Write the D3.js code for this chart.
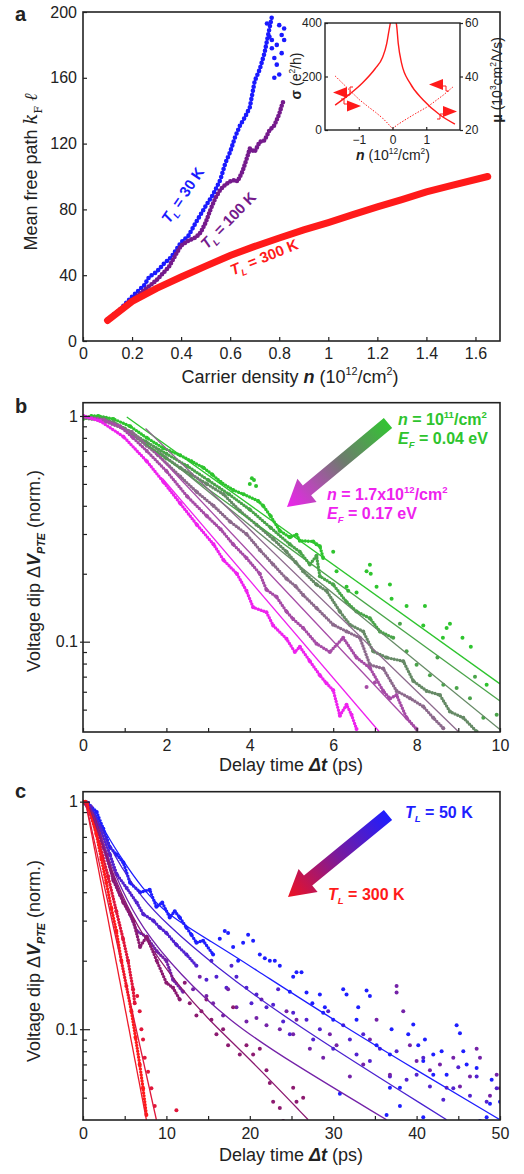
<!DOCTYPE html>
<html>
<head>
<meta charset="utf-8">
<script src="https://cdn.jsdelivr.net/npm/d3@7"></script>
<style>
  body { margin: 0; background: #fff; }
  svg text { font-family: "Liberation Sans", Arial, sans-serif; }
</style>
</head>
<body>
<svg id="fig" width="524" height="1174" fill="#222"></svg>
<script>
// ---------- panel a : mean free path vs carrier density ----------
const aXTicks = [0, 0.2, 0.4, 0.6, 0.8, 1, 1.2, 1.4, 1.6];
const aYTicks = [0, 40, 80, 120, 160, 200];
const aRed = [[0.1,12.5],[0.2,24],[0.3,32],[0.4,38.9],[0.5,45.5],[0.6,52],[0.7,57.5],[0.8,62.6],[0.9,67.5],[1.0,72],[1.1,76.8],[1.2,81.5],[1.3,86],[1.4,90.6],[1.5,94.5],[1.65,100]];
const aBlue = [[0.1,13],[0.15,19],[0.2,27],[0.25,34],[0.27,39],[0.3,42],[0.33,47],[0.36,51],[0.4,60],[0.43,64],[0.46,72],[0.5,82],[0.53,89],[0.56,98],[0.58,108],[0.6,115],[0.62,124],[0.64,131],[0.66,136],[0.68,142],[0.7,158],[0.72,165],[0.74,175],[0.76,190],[0.77,197]];
const aBlueTop = [[0.76,185],[0.77,178],[0.78,172],[0.79,168],[0.8,162],[0.81,175],[0.81,186],[0.82,190],[0.8,192],[0.78,160],[0.77,183],[0.75,193],[0.79,180],[0.82,183]];
const aPurple = [[0.1,12],[0.15,18],[0.2,25],[0.25,31],[0.3,37],[0.35,45],[0.38,53],[0.4,58],[0.43,61],[0.46,63],[0.48,66],[0.5,72],[0.52,80],[0.54,87],[0.56,92],[0.58,95],[0.6,97],[0.62,98],[0.63,97],[0.65,103],[0.67,112],[0.68,117],[0.7,115],[0.72,121],[0.74,122],[0.76,128],[0.78,131],[0.8,138],[0.81,143],[0.82,147]];

// inset: conductivity (dotted, left axis) and mobility (solid, right axis)
const insetXTicks = [-1, 0, 1];
const insetSigmaTicks = [0, 200, 400];
const insetMuTicks = [20, 40, 60];
const insetSigma = [[-1.7,202],[-1.4,165],[-1.2,140],[-0.97,112],[-0.7,85],[-0.5,66],[-0.3,45],[-0.15,26],[0,5],[0.15,20],[0.4,40],[0.69,62],[1.0,84],[1.18,100],[1.5,130],[1.82,164]];
const insetMuNeg = [[-1.7,29.3],[-1.26,33.5],[-0.9,37.5],[-0.51,43],[-0.3,47],[-0.17,52.4],[-0.12,56],[-0.05,61]];
const insetMuPos = [[0.08,61],[0.12,59.3],[0.17,52.4],[0.27,44.9],[0.52,37.5],[0.91,31.2],[1.41,25.6],[1.85,22.2]];

// ---------- panel b : decay vs carrier density ----------
const bXTicks = [0,1,2,3,4,5,6,7,8,9,10];
const bYTicks = [0.05,0.06,0.07,0.08,0.09,0.1,0.2,0.3,0.4,0.5,0.6,0.7,0.8,0.9,1];
const bGreen1 = [[0,0.97],[0.2,1.0],[0.37,1.0],[0.73,0.97],[1.13,0.9],[1.53,0.8],[1.93,0.72],[2.33,0.67],[2.6,0.63],[2.89,0.59],[3.1,0.55],[3.3,0.51],[3.6,0.47],[3.85,0.45],[4.2,0.42],[4.32,0.4],[4.5,0.36],[4.72,0.31],[4.96,0.29],[5.12,0.298],[5.2,0.28],[5.52,0.278],[5.6,0.27],[5.68,0.265],[5.76,0.235]];
const bGreen1Loose = [[4.0,0.5],[4.05,0.53],[4.1,0.52],[4.15,0.49],[6.0,0.25],[6.08,0.205],[6.32,0.175],[6.36,0.168],[6.56,0.165],[6.8,0.205],[6.88,0.219],[6.9,0.2],[7.04,0.175],[7.36,0.179],[7.4,0.155],[7.76,0.144],[8.16,0.118],[8.2,0.144],[8.63,0.104],[8.72,0.115],[8.8,0.12],[9.1,0.104],[9.3,0.095],[9.68,0.0645]];
const bGreen2 = [[0,0.98],[0.5,0.98],[1,0.88],[1.5,0.77],[2,0.68],[2.5,0.6],[3,0.52],[3.5,0.45],[4,0.385],[4.5,0.32],[4.96,0.27],[5.2,0.25],[5.44,0.22],[5.6,0.24],[5.68,0.195],[6.0,0.179],[6.32,0.15],[6.56,0.136],[6.88,0.127],[7.12,0.111],[7.44,0.104]];
const bGreen2Loose = [[7.6,0.12],[7.76,0.0906],[8.0,0.079],[8.32,0.071],[8.5,0.085],[8.64,0.0645],[8.96,0.0624],[9.28,0.0562],[9.4,0.07],[9.6,0.046],[9.92,0.0474]];
const bGrayGreen = [[0,0.98],[0.73,0.94],[1.1,0.85],[1.53,0.74],[2,0.65],[2.33,0.59],[2.6,0.55],[2.97,0.5],[3.37,0.45],[3.76,0.38],[4.16,0.33],[4.56,0.285],[4.88,0.25],[5.1,0.225],[5.28,0.205],[5.6,0.179],[5.84,0.168],[6.16,0.136],[6.4,0.119],[6.72,0.111],[6.96,0.0906],[7.28,0.085],[7.68,0.082],[7.92,0.067],[8.24,0.0605],[8.56,0.058],[8.8,0.049],[9.12,0.046],[9.44,0.04]];
const bGrayPurple = [[0,0.99],[0.5,0.95],[1.17,0.85],[1.8,0.67],[2.33,0.54],[2.73,0.46],[3.13,0.4],[3.53,0.34],[3.92,0.3],[4.24,0.255],[4.56,0.22],[4.88,0.19],[5.1,0.176],[5.28,0.161],[5.6,0.141],[6.0,0.119],[6.32,0.111],[6.64,0.104],[6.88,0.079],[7.2,0.076],[7.52,0.0605],[7.84,0.0562],[8.16,0.0516],[8.4,0.046],[8.64,0.0414]];
const bPurple = [[0,1.0],[0.5,0.96],[0.89,0.9],[1.2,0.8],[1.53,0.7],[2,0.57],[2.5,0.44],[2.97,0.36],[3.3,0.315],[3.6,0.27],[3.92,0.235],[4.24,0.2],[4.4,0.17],[4.64,0.158],[4.88,0.136],[5.04,0.126],[5.28,0.115],[5.6,0.098],[5.92,0.09],[6.24,0.104],[6.56,0.085],[6.88,0.0766],[7.2,0.0605],[7.36,0.056],[7.52,0.058],[7.76,0.046],[8.0,0.041]];
const bPurpleLoose = [[6.8,0.063],[7.0,0.066]];
const bMagenta = [[0,1.0],[0.41,0.95],[0.97,0.81],[1.53,0.63],[1.93,0.51],[2.33,0.41],[2.73,0.33],[3.13,0.27],[3.37,0.23],[3.69,0.2],[3.92,0.168],[4.08,0.142],[4.4,0.135],[4.56,0.118],[4.88,0.103],[5.08,0.09],[5.2,0.095],[5.44,0.082],[5.68,0.071],[5.84,0.0654],[6.0,0.061],[6.16,0.047],[6.32,0.0526],[6.44,0.0474],[6.56,0.041]];
const bFitGreen1 = [[1.05,0.99],[10,0.065]];
const bFitGreen2 = [[1.5,0.754],[10,0.0546]];
const bFitGrayGreen = [[1.5,0.78],[10,0.0408]];
const bFitGrayPurple = [[1.5,0.88],[9.0,0.04]];
const bFitPurple = [[1.7,0.70],[8.04,0.04]];
const bFitMagenta = [[1.9,0.53],[7.1,0.04]];

// ---------- panel c : decay vs lattice temperature ----------
const cXTicks = [0,5,10,15,20,25,30,35,40,45,50];
const cYTicks = bYTicks;
const cBlue = [[0,1.0],[0.56,0.99],[1.64,0.9],[2.44,0.76],[3.24,0.63],[4.04,0.585],[4.84,0.54],[5.64,0.44],[6.84,0.4],[8.0,0.41],[8.8,0.345],[9.5,0.36],[10.4,0.31],[11,0.33],[11.6,0.31],[12.4,0.28],[13,0.26],[13.6,0.24],[14.4,0.245],[15.6,0.213]];
const cBlueLoose = [[16.4,0.25],[17.0,0.27],[17.4,0.265],[18,0.23],[18.6,0.2],[19.2,0.24],[19.8,0.26],[20.4,0.245],[21.2,0.213],[21.8,0.205],[22.4,0.2],[23,0.2],[23.6,0.19],[24.8,0.146],[25.2,0.17],[25.6,0.178],[26.2,0.178],[26.8,0.145],[27.5,0.13],[28.4,0.142],[28.8,0.118],[29,0.125],[30,0.11],[30.8,0.052],[31.2,0.15],[31.6,0.142],[32.8,0.11],[33,0.125],[34,0.148],[34.4,0.14],[35.2,0.085],[36.4,0.042],[36.8,0.0774],[36.8,0.0553],[37,0.1],[38,0.0553],[38,0.046],[39,0.095],[39.6,0.105],[40.2,0.085],[40.8,0.0725],[40.8,0.041],[41,0.09],[42,0.0774],[42,0.063],[43,0.08],[43.6,0.063],[44.8,0.104],[45.2,0.096],[45.6,0.08],[46,0.07],[47.2,0.0675],[47.6,0.0395],[48.4,0.041],[48.8,0.047],[49,0.06],[50,0.048]];
const cBluePurple = [[0,1.0],[0.56,0.99],[2.0,0.78],[3.24,0.585],[4.04,0.48],[5.24,0.417],[6.44,0.36],[7.24,0.32],[8.44,0.3],[9.2,0.28],[10,0.265],[11.2,0.235],[12.4,0.213],[13.6,0.19]];
const cBluePurpleLoose = [[14.8,0.165],[15.4,0.2],[16,0.17],[17.2,0.152],[17.8,0.19],[18.4,0.17],[19.6,0.152],[20.2,0.13],[20.8,0.142],[22,0.125],[22.8,0.128],[23.4,0.15],[24,0.108],[24.8,0.095],[25.2,0.118],[26.8,0.11],[27.6,0.09],[28.4,0.1],[29.4,0.12],[30,0.082],[31.2,0.104],[32,0.09],[32.8,0.0774],[33.6,0.095],[34.4,0.0725],[35.6,0.082],[36.8,0.062],[37.6,0.08],[38.8,0.06],[40,0.063],[40.8,0.075],[41.6,0.056],[43.2,0.049],[44.4,0.055],[45,0.068],[46.4,0.051],[47.2,0.062],[48.4,0.048],[49.6,0.055]];
const cPurple = [[0,1.0],[0.96,0.95],[2.44,0.63],[3.64,0.46],[4.44,0.39],[5.64,0.32],[6.44,0.27],[7.63,0.255],[8.84,0.22],[10,0.2],[10.8,0.165],[12.0,0.146]];
const cPurpleLoose = [[13.2,0.15],[14,0.17],[14.8,0.14],[15.6,0.13],[16.8,0.115],[17.4,0.15],[18.4,0.125],[19.6,0.108],[20.8,0.112],[21.4,0.135],[22,0.104],[23.6,0.1],[24.4,0.12],[25.2,0.095],[25.6,0.11],[27.2,0.082],[28.8,0.075],[29.6,0.095],[30.4,0.085],[32,0.062],[33.6,0.07],[34.4,0.09],[35.2,0.11],[36.8,0.063],[37.6,0.155],[37.6,0.145],[38.4,0.12],[39.2,0.085],[40,0.0725],[41.6,0.066],[42.8,0.07],[43.6,0.0553],[44.4,0.075],[45.2,0.056],[46.4,0.062],[47.2,0.082],[47.6,0.075],[48.8,0.051],[49.6,0.063],[50,0.055]];
const cMaroon = [[0,1.0],[1.2,0.88],[2.84,0.585],[3.64,0.45],[4.84,0.36],[6.04,0.3],[6.84,0.23],[7.63,0.255],[8.84,0.2],[10,0.16],[10.8,0.152],[11.6,0.135]];
const cMaroonLoose = [[12.2,0.16],[12.8,0.13],[13.6,0.115],[14.2,0.12],[14.8,0.135],[15.4,0.11],[16,0.095],[16.8,0.1],[17.4,0.085],[18,0.125],[18.8,0.0774],[19.6,0.085],[20.4,0.0774],[21.2,0.082],[22,0.066],[22.4,0.058],[22.8,0.048],[23.6,0.045],[24,0.0395],[25.2,0.0553],[25.6,0.048],[26.4,0.05]];
const cRed1 = [[0,1.0],[0.3,1.0],[1,0.88],[1.6,0.72],[2.2,0.56],[2.8,0.44],[3.4,0.34],[4,0.27],[4.6,0.2],[5.2,0.155],[5.8,0.12],[6.3,0.092],[6.8,0.07],[7.2,0.055],[7.6,0.042]];
const cRed2 = [[0.5,0.98],[2,0.65],[3,0.47],[4,0.33],[4.8,0.25],[5.4,0.2],[6,0.15],[6.2,0.13]];
const cRed2Loose = [[6.5,0.14],[6.8,0.12],[7,0.1],[7.2,0.09],[7.4,0.075],[7.8,0.065],[8.2,0.055],[8.6,0.046],[11.2,0.044]];
const cFitBlue = [[0.8,0.97],[2,0.82],[3,0.7],[4.8,0.55],[7,0.42],[10,0.32],[15.6,0.24],[20,0.19],[30,0.11],[40,0.066],[50,0.04]];
const cFitBluePurple = [[0.8,0.97],[2,0.8],[3,0.66],[4.5,0.52],[7,0.38],[10,0.29],[15.6,0.192],[24.8,0.108],[43.6,0.04]];
const cFitPurple = [[0.8,0.95],[2,0.72],[3,0.57],[4.5,0.42],[7,0.28],[11.6,0.174],[17.6,0.108],[24.8,0.072],[36.4,0.04]];
const cFitMaroon = [[0.8,0.94],[2,0.7],[3,0.55],[4.5,0.4],[7,0.26],[11.6,0.152],[15.6,0.105],[20,0.074],[27,0.04]];
const cFitRed1 = [[0.3,1.0],[7.6,0.04]];
const cFitRed2 = [[0.3,1.0],[8.8,0.04]];

// ---------- drawing ----------
const svg = d3.select('#fig');
const SERIF = '"DejaVu Serif", "Liberation Serif", serif';
const defs = svg.append('defs');

// text with mixed styling; flags: b bold, i italic, ^ sup, _ sub, s serif
function rich(sel, x, y, parts, size) {
  const t = sel.append('text').attr('x', x).attr('y', y).attr('font-size', size);
  let shift = 0;
  parts.forEach(p => {
    const [txt, f] = typeof p === 'string' ? [p, ''] : p;
    const s = t.append('tspan').text(txt);
    let target = 0;
    if (f.includes('^')) target = -0.42 * size;
    if (f.includes('_')) target = 0.28 * size;
    if (target - shift !== 0) s.attr('dy', target - shift);
    shift = target;
    if (f.includes('^') || f.includes('_')) s.attr('font-size', size * 0.6);
    if (f.includes('i')) s.attr('font-style', 'italic');
    if (f.includes('b')) s.attr('font-weight', 'bold');
    if (f.includes('s')) s.attr('font-family', SERIF);
  });
  return t;
}

function clip(id, x0, y0, x1, y1) {
  defs.append('clipPath').attr('id', id).append('rect')
    .attr('x', x0).attr('y', y0).attr('width', x1 - x0).attr('height', y1 - y0);
  return `url(#${id})`;
}

function styleAxis(g, size) {
  g.select('.domain').remove();
  g.attr('font-size', size).attr('font-family', '"Liberation Sans", Arial, sans-serif');
  g.selectAll('line').attr('stroke', '#222').attr('stroke-width', 1.2);
  g.selectAll('text').attr('fill', '#222');
}

function frame(x0, y0, x1, y1, w) {
  svg.append('rect').attr('x', x0).attr('y', y0).attr('width', x1 - x0).attr('height', y1 - y0)
    .attr('fill', 'none').attr('stroke', '#222').attr('stroke-width', w || 1.6);
}

function arrow(id, tail, tip, stops) {
  const g = defs.append('linearGradient').attr('id', id).attr('gradientUnits', 'userSpaceOnUse')
    .attr('x1', tail[0]).attr('y1', tail[1]).attr('x2', tip[0]).attr('y2', tip[1]);
  stops.forEach(s => g.append('stop').attr('offset', s[0]).attr('stop-color', s[1]));
  const dx = tip[0] - tail[0], dy = tip[1] - tail[1], len = Math.hypot(dx, dy);
  const ux = dx / len, uy = dy / len, nx = -uy, ny = ux;
  const w = 6.5, H = 15, L = 26;
  const bx = tip[0] - ux * L, by = tip[1] - uy * L;
  const pts = [
    [tail[0] + nx * w, tail[1] + ny * w], [bx + nx * w, by + ny * w], [bx + nx * H, by + ny * H],
    tip, [bx - nx * H, by - ny * H], [bx - nx * w, by - ny * w], [tail[0] - nx * w, tail[1] - ny * w]
  ];
  svg.append('polygon').attr('points', pts.map(p => p.join(',')).join(' ')).attr('fill', `url(#${id})`);
}

// ===== panel a =====
const xA = d3.scaleLinear([0, 1.7], [83, 500]);
const yA = d3.scaleLinear([0, 200], [341, 12]);
const lineA = d3.line().x(d => xA(d[0])).y(d => yA(d[1]));

svg.append('g').attr('transform', 'translate(0,341)')
  .call(d3.axisBottom(xA).tickValues(aXTicks).tickSize(-4).tickPadding(7).tickFormat(d3.format('~g')))
  .call(g => styleAxis(g, 16));
svg.append('g').attr('transform', 'translate(83,0)')
  .call(d3.axisLeft(yA).tickValues(aYTicks).tickSize(-4).tickPadding(6))
  .call(g => styleAxis(g, 16));

svg.append('path').datum(aBlue).attr('d', lineA).attr('fill', 'none')
  .attr('stroke', '#1a1aff').attr('stroke-width', 4.6).attr('stroke-linecap', 'round')
  .attr('stroke-dasharray', '0 4.2');
svg.append('g').selectAll('circle').data(aBlueTop).join('circle')
  .attr('cx', d => xA(d[0])).attr('cy', d => yA(d[1])).attr('r', 2.3).attr('fill', '#1a1aff');
svg.append('path').datum(aPurple).attr('d', lineA).attr('fill', 'none')
  .attr('stroke', '#751a8c').attr('stroke-width', 4.6).attr('stroke-linecap', 'round')
  .attr('stroke-dasharray', '0 3.6');
svg.append('path').datum(aRed).attr('d', lineA).attr('fill', 'none')
  .attr('stroke', '#ff1a1a').attr('stroke-width', 7).attr('stroke-linecap', 'round');
frame(83, 12, 500, 341);

rich(svg, 187, 198, [['T', 'bi'], ['L', 'bi_'], [' = 30 K', 'b']], 15)
  .attr('text-anchor', 'middle').attr('transform', 'rotate(-56,187,198)').attr('fill', '#1a1aff');
rich(svg, 232, 224, [['T', 'bi'], ['L', 'bi_'], [' = 100 K', 'b']], 15)
  .attr('text-anchor', 'middle').attr('transform', 'rotate(-46,232,224)').attr('fill', '#751a8c');
rich(svg, 266, 262, [['T', 'bi'], ['L', 'bi_'], [' = 300 K', 'b']], 15)
  .attr('text-anchor', 'middle').attr('transform', 'rotate(-22,266,262)').attr('fill', '#ff1a1a');

svg.append('text').attr('x', 15).attr('y', 21).attr('font-size', 20).attr('font-weight', 'bold').text('a');
rich(svg, 290, 383, ['Carrier density ', ['n', 'bi'], ' (10', ['12', '^'], '/cm', ['2', '^'], ')'], 18)
  .attr('text-anchor', 'middle');
rich(svg, 0, 0, ['Mean free path ', ['k', 'is'], ['F', 's_'], ' ', ['ℓ', 'is']], 18)
  .attr('text-anchor', 'middle').attr('transform', 'translate(37,172) rotate(-90)');

// inset
const xI = d3.scaleLinear([-2, 2], [325, 460]);
const ySig = d3.scaleLinear([0, 400], [130, 23]);
const yMu = d3.scaleLinear([20, 60], [130, 23]);
svg.append('rect').attr('x', 325).attr('y', 23).attr('width', 135).attr('height', 107).attr('fill', '#fff');
const insetClip = clip('clipI', 325, 23, 460, 130);
const gI = svg.append('g').attr('clip-path', insetClip);
gI.append('path').datum(insetSigma)
  .attr('d', d3.line().x(d => xI(d[0])).y(d => ySig(d[1])))
  .attr('fill', 'none').attr('stroke', '#ff1a1a').attr('stroke-width', 1).attr('stroke-dasharray', '1.5 1.5');
[insetMuNeg, insetMuPos].forEach(arr => {
  gI.append('path').datum(arr)
    .attr('d', d3.line().x(d => xI(d[0])).y(d => yMu(d[1])).curve(d3.curveMonotoneX))
    .attr('fill', 'none').attr('stroke', '#ff1a1a').attr('stroke-width', 1.4);
});
svg.append('g').attr('transform', 'translate(0,130)')
  .call(d3.axisBottom(xI).tickValues(insetXTicks).tickSize(-3).tickPadding(5).tickFormat(d3.format('~g')))
  .call(g => styleAxis(g, 12));
svg.append('g').attr('transform', 'translate(325,0)')
  .call(d3.axisLeft(ySig).tickValues(insetSigmaTicks).tickSize(-3).tickPadding(3))
  .call(g => styleAxis(g, 12));
svg.append('g').attr('transform', 'translate(460,0)')
  .call(d3.axisRight(yMu).tickValues(insetMuTicks).tickSize(3).tickPadding(2))
  .call(g => styleAxis(g, 12));
frame(325, 23, 460, 130, 1.4);
rich(svg, 393, 160, [['n', 'bi'], ' (10', ['12', '^'], '/cm', ['2', '^'], ')'], 14).attr('text-anchor', 'middle');
rich(svg, 0, 0, [['σ', 'b'], ' (e', ['2', '^'], '/h)'], 14)
  .attr('text-anchor', 'middle').attr('transform', 'translate(301,76) rotate(-90)');
rich(svg, 0, 0, [['μ', 'b'], ' (10', ['3', '^'], 'cm', ['2', '^'], '/Vs)'], 14)
  .attr('text-anchor', 'middle').attr('transform', 'translate(502,80) rotate(-90)');
// inset direction markers
const tri = (tip, dir) => [[tip[0], tip[1]], [tip[0] - dir * 14, tip[1] - 5.5], [tip[0] - dir * 14, tip[1] + 5.5]];
[[[333, 92.5], -1], [[361, 106], 1], [[429, 84.5], -1], [[457, 111.5], 1]].forEach(([tip, dir]) => {
  svg.append('polygon').attr('points', tri(tip, dir).map(p => p.join(',')).join(' ')).attr('fill', '#ff1a1a');
});
['M347,95 H350 V87 H353', 'M347,104 H344 V99 H341', 'M443,86 H446 V91 H449', 'M443,114 H440 V119 H437']
  .forEach(d => svg.append('path').attr('d', d).attr('fill', 'none').attr('stroke', '#ff1a1a').attr('stroke-width', 1));

// ===== shared decay-panel drawing =====
function decayPanel(cfg) {
  const { x, y, top, bottom, xTicks, yTicks, labelEvery, series, fits, id } = cfg;
  const cp = clip(id, 83, top, 500, bottom);
  const line = d3.line().x(d => x(d[0])).y(d => y(d[1]));
  const g = svg.append('g').attr('clip-path', cp);
  series.forEach(s => {
    g.append('path').datum(s.data).attr('d', line)
      .attr('fill', 'none').attr('stroke', s.color).attr('stroke-width', 3.4)
      .attr('stroke-linecap', 'round').attr('stroke-dasharray', '0 3');
    g.append('g').selectAll('circle').data(s.data.concat(s.loose || [])).join('circle')
      .attr('cx', d => x(d[0])).attr('cy', d => y(d[1])).attr('r', 2).attr('fill', s.color);
  });
  const fitLine = d3.line().x(d => x(d[0])).y(d => y(d[1])).curve(d3.curveBasis);
  fits.forEach(f => {
    g.append('path').datum(f.data).attr('d', fitLine)
      .attr('fill', 'none').attr('stroke', f.color).attr('stroke-width', 1.3);
  });
  svg.append('g').attr('transform', `translate(0,${bottom})`)
    .call(d3.axisBottom(x).tickValues(xTicks).tickSize(-4).tickPadding(8)
      .tickFormat(d => d % labelEvery === 0 ? d : ''))
    .call(ax => styleAxis(ax, 16));
  svg.append('g').attr('transform', 'translate(83,0)')
    .call(d3.axisLeft(y).tickValues(yTicks).tickSize(-4).tickPadding(5)
      .tickFormat(d => d === 1 ? '1' : (Math.abs(d - 0.1) < 1e-9 ? '0.1' : '')))
    .call(ax => styleAxis(ax, 16))
    .call(ax => ax.selectAll('.tick').filter(d => d === 1 || Math.abs(d - 0.1) < 1e-9)
      .select('line').attr('x1', -3).attr('x2', 7));
  frame(83, top, 500, bottom);
}

// ===== panel b =====
const xB = d3.scaleLinear([0, 10], [83, 500]);
const yB = d3.scaleLog([0.0398, 1.145], [732, 402.7]);
decayPanel({
  id: 'clipB', x: xB, y: yB, top: 402.7, bottom: 732, xTicks: bXTicks, yTicks: bYTicks, labelEvery: 2,
  series: [
    { data: bGreen1, loose: bGreen1Loose, color: '#2ec42e' },
    { data: bGreen2, loose: bGreen2Loose, color: '#4aa44a' },
    { data: bGrayGreen, color: '#668a66' },
    { data: bGrayPurple, color: '#8c6a8c' },
    { data: bPurple, loose: bPurpleLoose, color: '#a64ca6' },
    { data: bMagenta, color: '#ee22ee' }
  ],
  fits: [
    { data: bFitGreen1, color: '#2ec42e' }, { data: bFitGreen2, color: '#4aa44a' },
    { data: bFitGrayGreen, color: '#668a66' }, { data: bFitGrayPurple, color: '#8c6a8c' },
    { data: bFitPurple, color: '#a64ca6' }, { data: bFitMagenta, color: '#ee22ee' }
  ]
});
svg.append('text').attr('x', 15).attr('y', 413).attr('font-size', 20).attr('font-weight', 'bold').text('b');
rich(svg, 291, 771, ['Delay time ', ['Δt', 'bi'], ' (ps)'], 18).attr('text-anchor', 'middle');
rich(svg, 0, 0, ['Voltage dip ', 'Δ', ['V', 'bi'], ['PTE', 'bi_'], ' (norm.)'], 18)
  .attr('text-anchor', 'middle').attr('transform', 'translate(40,571) rotate(-90)');
arrow('gradB', [388, 423], [287, 507], [[0, '#33c433'], [0.45, '#6e7a6e'], [0.75, '#b44cb4'], [1, '#ee22ee']]);
rich(svg, 398, 425, [['n', 'bi'], [' = 10', 'b'], ['11', 'b^'], ['/cm', 'b'], ['2', 'b^']], 16).attr('fill', '#2ec42e');
rich(svg, 398, 444, [['E', 'bi'], ['F', 'bi_'], [' = 0.04 eV', 'b']], 16).attr('fill', '#2ec42e');
rich(svg, 327, 500, [['n', 'bi'], [' = 1.7x10', 'b'], ['12', 'b^'], ['/cm', 'b'], ['2', 'b^']], 16).attr('fill', '#ee22ee');
rich(svg, 327, 519, [['E', 'bi'], ['F', 'bi_'], [' = 0.17 eV', 'b']], 16).attr('fill', '#ee22ee');

// ===== panel c =====
const xC = d3.scaleLinear([0, 50], [83, 500]);
const yC = d3.scaleLog([0.0399, 1.106], [1120, 791.7]);
decayPanel({
  id: 'clipC', x: xC, y: yC, top: 791.7, bottom: 1120, xTicks: cXTicks, yTicks: cYTicks, labelEvery: 10,
  series: [
    { data: cBlue, loose: cBlueLoose, color: '#1e1eff' },
    { data: cBluePurple, loose: cBluePurpleLoose, color: '#5222d0' },
    { data: cPurple, loose: cPurpleLoose, color: '#7422a8' },
    { data: cMaroon, loose: cMaroonLoose, color: '#8c1a70' },
    { data: cRed2, loose: cRed2Loose, color: '#e0163a' },
    { data: cRed1, color: '#ff1a1a' }
  ],
  fits: [
    { data: cFitBlue, color: '#1e1eff' }, { data: cFitBluePurple, color: '#4a22d0' },
    { data: cFitPurple, color: '#7422a8' }, { data: cFitMaroon, color: '#8c1a70' },
    { data: cFitRed1, color: '#ee1a2a' }, { data: cFitRed2, color: '#e0163a' }
  ]
});
svg.append('text').attr('x', 15).attr('y', 798).attr('font-size', 20).attr('font-weight', 'bold').text('c');
rich(svg, 291, 1161, ['Delay time ', ['Δt', 'bi'], ' (ps)'], 18).attr('text-anchor', 'middle');
rich(svg, 0, 0, ['Voltage dip ', 'Δ', ['V', 'bi'], ['PTE', 'bi_'], ' (norm.)'], 18)
  .attr('text-anchor', 'middle').attr('transform', 'translate(40,961) rotate(-90)');
arrow('gradC', [388, 815], [288, 897], [[0, '#1e1eff'], [0.5, '#7a1a9c'], [1, '#ee1122']]);
rich(svg, 405, 818, [['T', 'bi'], ['L', 'bi_'], [' = 50 K', 'b']], 16).attr('fill', '#1e1eff');
rich(svg, 328, 900, [['T', 'bi'], ['L', 'bi_'], [' = 300 K', 'b']], 16).attr('fill', '#ff1a1a');
</script>
</body>
</html>
